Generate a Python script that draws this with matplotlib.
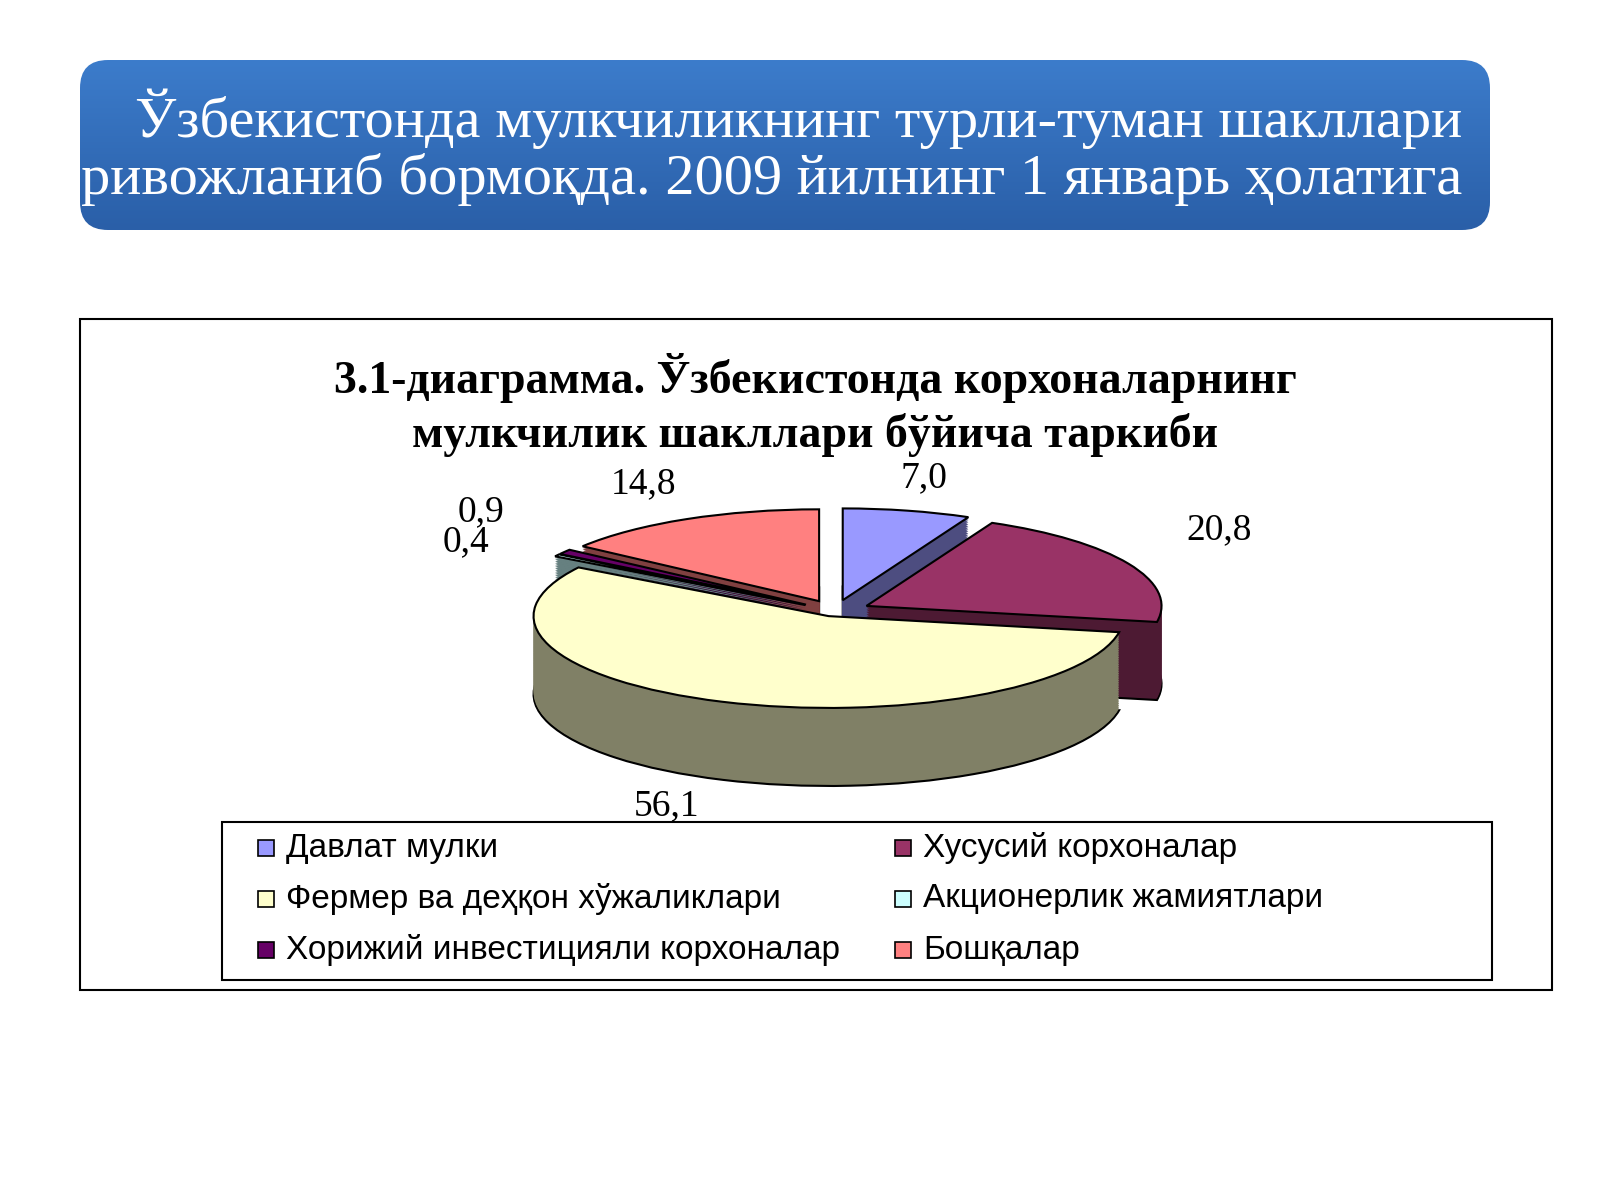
import numpy as np
import matplotlib.pyplot as plt
from matplotlib.patches import FancyBboxPatch, Rectangle
import matplotlib.colors as mc

categories = ["Давлат мулки", "Хусусий корхоналар", "Фермер ва деҳқон хўжаликлари",
              "Акционерлик жамиятлари", "Хорижий инвестицияли корхоналар", "Бошқалар"]
values = [7.0, 20.8, 56.1, 0.4, 0.9, 14.8]
labels = ["7,0", "20,8", "56,1", "0,4", "0,9", "14,8"]
colors = ["#9999FF", "#993366", "#FFFFCC", "#CCFFFF", "#660066", "#FF8080"]
side_colors = ["#4D4D80", "#4D1A33", "#808066", "#668080", "#330033", "#804040"]
explode = [0.12, 0.12, 0.06, 0.12, 0.12, 0.12]

fig = plt.figure(figsize=(16, 12), dpi=100)
W, H = 1600, 1200

# --- header box with gradient ---
hax = fig.add_axes([0, 0, 1, 1])
hax.set_xlim(0, W); hax.set_ylim(H, 0); hax.axis("off")
box = FancyBboxPatch((80, 60), 1410, 170, boxstyle="round,pad=0,rounding_size=28",
                     fc="none", ec="none")
hax.add_patch(box)
grad = np.linspace(0, 1, 100).reshape(-1, 1)
cmap = mc.LinearSegmentedColormap.from_list("g", ["#3C7CCB", "#2A5FA8"])
im = hax.imshow(grad, extent=(80, 1490, 230, 60), cmap=cmap, aspect="auto")
im.set_clip_path(box)
hax.text(1462, 147, "Ўзбекистонда мулкчиликнинг турли-туман шакллари\nривожланиб бормоқда. 2009 йилнинг 1 январь ҳолатига",
         color="white", fontsize=42, family="Liberation Serif", ha="right", va="center",
         linespacing=1.1)

# --- chart frame ---
hax.add_patch(Rectangle((80, 319), 1472, 671, fc="white", ec="black", lw=1.5))
hax.text(815, 405, "3.1-диаграмма. Ўзбекистонда корхоналарнинг\nмулкчилик шакллари бўйича таркиби",
         fontsize=33, fontweight="bold", family="Liberation Serif", ha="center", va="center",
         linespacing=1.3)

# --- legend box ---
hax.add_patch(Rectangle((222, 822), 1270, 158, fc="white", ec="black", lw=1.5))
for i, (cat, c) in enumerate(zip(categories, colors)):
    col, row = i % 2, i // 2
    x = 258 + col * 637
    y = 848 + row * 51
    hax.add_patch(Rectangle((x, y - 8), 16, 16, fc=c, ec="black", lw=1.2))
    hax.text(x + 28, y, cat, fontsize=24, family="Liberation Sans", va="center")

# --- 3D-looking exploded pie ---
pax = fig.add_axes([475 / W, 1 - 790 / H, 720 / W, 280 / H])
pax.axis("off")
depth = 0.85
cum = np.cumsum([0] + values)
for k, dy in enumerate(np.linspace(-depth, 0, 45)):
    top = k == 44
    bottom = k == 0
    pax.pie(values, colors=colors if top else side_colors, explode=explode,
            startangle=90, counterclock=False, center=(0, dy), radius=1,
            wedgeprops=dict(edgecolor="black" if (top or bottom) else "none",
                            linewidth=1.5 if (top or bottom) else 0))
pax.set_aspect("auto")
pax.set_xlim(-1.22, 1.22)
pax.set_ylim(-1.95, 1.1)

# data labels
for v, lab, ex, a0 in zip(values, labels, explode, cum[:-1]):
    mid = np.deg2rad(90 - (a0 + v / 2) * 3.6)
    r = 1.0 + ex + 0.22
    x, y = r * np.cos(mid), r * np.sin(mid)
    if lab == "56,1":
        x, y = -0.57, -2.12
    if lab == "0,4":
        x, y = -1.25, 0.75
    if lab == "0,9":
        x, y = -1.2, 1.08
    if lab == "14,8":
        x, y = -0.65, 1.38
    if lab == "7,0":
        x, y = 0.3, 1.45
    if lab == "20,8":
        x, y = 1.3, 0.88
    pax.text(x, y, lab, fontsize=27, family="Liberation Serif", ha="center", va="center",
             clip_on=False)

fig.savefig("out.png", dpi=100)
